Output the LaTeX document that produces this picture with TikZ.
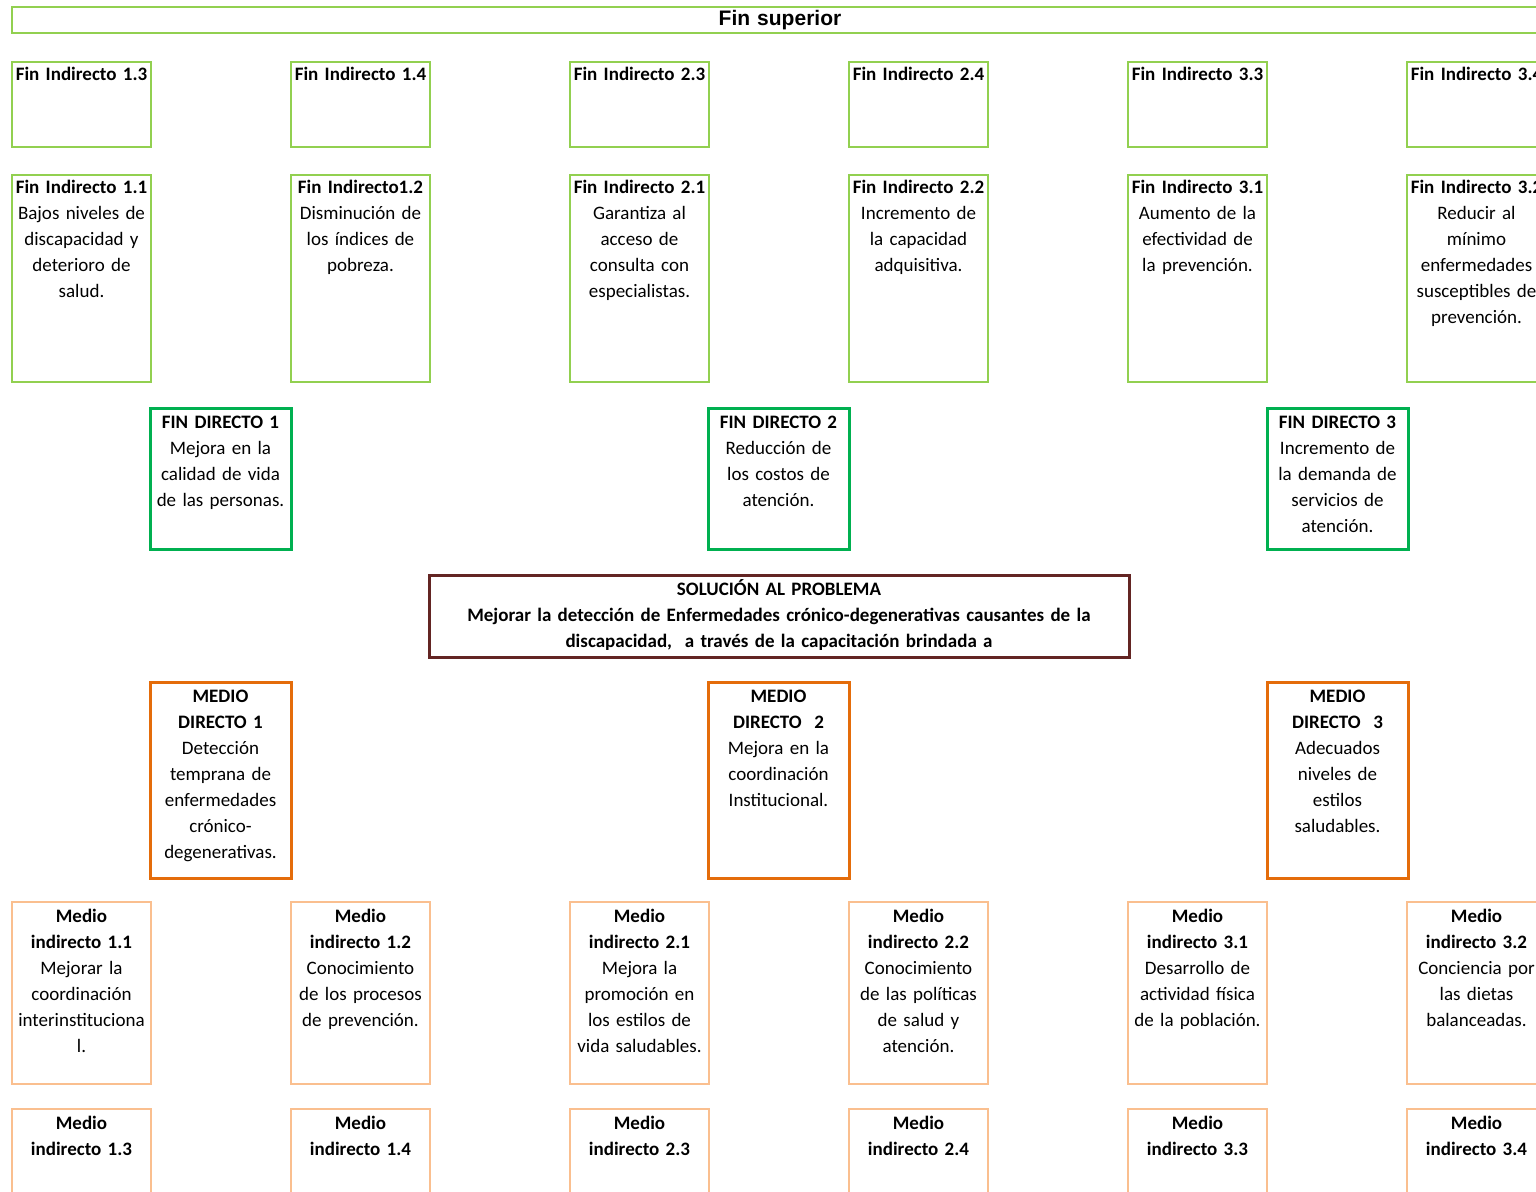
\documentclass[tikz,border=0pt]{standalone}
\usepackage{fontspec}
\setmainfont{Carlito}
\newfontfamily\arialfont{Liberation Sans}
\definecolor{lgreen}{HTML}{92D050}
\definecolor{dgreen}{HTML}{00B050}
\definecolor{maroon}{HTML}{632523}
\definecolor{dorange}{HTML}{E46C0A}
\definecolor{lorange}{HTML}{FABF8F}

\begin{document}
\begin{tikzpicture}[x=0.5pt, y=-0.5pt,
    box/.style={draw, rectangle, anchor=north, inner xsep=0pt, inner ysep=0pt,
        align=center, font=\fontsize{9.5}{13}\selectfont},
    finup/.style={box, draw=lgreen, line width=1pt, text width=69.5pt, text height=9.5pt, text depth=33pt},
    finlow/.style={box, draw=lgreen, line width=1pt, text width=69.5pt, text height=9.5pt, text depth=94pt},
    findir/.style={box, draw=dgreen, line width=1.5pt, text width=70.5pt, text height=10pt, text depth=60.5pt},
    solbox/.style={box, draw=maroon, line width=1.5pt, text width=350pt, text height=10pt, text depth=31pt},
    mediodir/.style={box, draw=dorange, line width=1.5pt, text width=70.5pt, text height=10pt, text depth=88pt},
    medioup/.style={box, draw=lorange, line width=1pt, text width=69.5pt, text height=10pt, text depth=81pt},
    mediolow/.style={box, draw=lorange, line width=1pt, text width=69.5pt, text height=10pt, text depth=81pt}]
    \useasboundingbox (0,0) rectangle (1536,1192);
    \clip (0,0) rectangle (1536,1192);

    % fin superior
    \node[box, draw=lgreen, line width=1pt, anchor=center, text width=768pt, minimum height=13pt,
        font=\arialfont\fontsize{10.5}{12}\selectfont\bfseries] (sup) at (780,20.5) {Fin superior};

    % fines indirectos
    \foreach \a/\b/\x in {1/3/81.5, 1/4/360.5, 2/3/639.5, 2/4/918.5, 3/3/1197.5, 3/4/1476.5}
        \node[finup] (fi\a\b) at (\x,61) {\textbf{Fin Indirecto \a.\b}};

    \node[finlow] (fi11) at (81.5,174) {\textbf{Fin Indirecto 1.1}\\Bajos niveles de\\discapacidad y\\deterioro de\\salud.};
    \node[finlow] (fi12) at (360.5,174) {\textbf{Fin Indirecto1.2}\\Disminución de\\los índices de\\pobreza.};
    \node[finlow] (fi21) at (639.5,174) {\textbf{Fin Indirecto 2.1}\\Garantiza al\\acceso de\\consulta con\\especialistas.};
    \node[finlow] (fi22) at (918.5,174) {\textbf{Fin Indirecto 2.2}\\Incremento de\\la capacidad\\adquisitiva.};
    \node[finlow] (fi31) at (1197.5,174) {\textbf{Fin Indirecto 3.1}\\Aumento de la\\efectividad de\\la prevención.};
    \node[finlow] (fi32) at (1476.5,174) {\textbf{Fin Indirecto 3.2}\\Reducir al\\mínimo\\enfermedades\\susceptibles de\\prevención.};

    % fines directos
    \node[findir] (fd1) at (220.5,407) {\textbf{FIN DIRECTO 1}\\Mejora en la\\calidad de vida\\de las personas.};
    \node[findir] (fd2) at (778.5,407) {\textbf{FIN DIRECTO 2}\\Reducción de\\los costos de\\atención.};
    \node[findir] (fd3) at (1337.5,407) {\textbf{FIN DIRECTO 3}\\Incremento de\\la demanda de\\servicios de\\atención.};

    % solucion
    \node[solbox] (sol) at (779,574) {\textbf{SOLUCIÓN AL PROBLEMA}\\\textbf{Mejorar la detección de Enfermedades crónico-degenerativas causantes de la}\\\textbf{discapacidad,\ \ a través de la capacitación brindada a}};

    % medios directos
    \node[mediodir] (md1) at (220.5,681) {\textbf{MEDIO}\\\textbf{DIRECTO 1}\\Detección\\temprana de\\enfermedades\\crónico-\\degenerativas.};
    \node[mediodir] (md2) at (778.5,681) {\textbf{MEDIO}\\\textbf{DIRECTO\ \ 2}\\Mejora en la\\coordinación\\Institucional.};
    \node[mediodir] (md3) at (1337.5,681) {\textbf{MEDIO}\\\textbf{DIRECTO\ \ 3}\\Adecuados\\niveles de\\estilos\\saludables.};

    % medios indirectos
    \node[medioup] (mi11) at (81.5,901) {\textbf{Medio}\\\textbf{indirecto 1.1}\\Mejorar la\\coordinación\\interinstituciona\\l.};
    \node[medioup] (mi12) at (360.5,901) {\textbf{Medio}\\\textbf{indirecto 1.2}\\Conocimiento\\de los procesos\\de prevención.};
    \node[medioup] (mi21) at (639.5,901) {\textbf{Medio}\\\textbf{indirecto 2.1}\\Mejora la\\promoción en\\los estilos de\\vida saludables.};
    \node[medioup] (mi22) at (918.5,901) {\textbf{Medio}\\\textbf{indirecto 2.2}\\Conocimiento\\de las políticas\\de salud y\\atención.};
    \node[medioup] (mi31) at (1197.5,901) {\textbf{Medio}\\\textbf{indirecto 3.1}\\Desarrollo de\\actividad física\\de la población.};
    \node[medioup] (mi32) at (1476.5,901) {\textbf{Medio}\\\textbf{indirecto 3.2}\\Conciencia por\\las dietas\\balanceadas.};

    \foreach \a/\b/\x in {1/3/81.5, 1/4/360.5, 2/3/639.5, 2/4/918.5, 3/3/1197.5, 3/4/1476.5}
        \node[mediolow] (mi\a\b) at (\x,1108) {\textbf{Medio}\\\textbf{indirecto \a.\b}};
\end{tikzpicture}
\end{document}
